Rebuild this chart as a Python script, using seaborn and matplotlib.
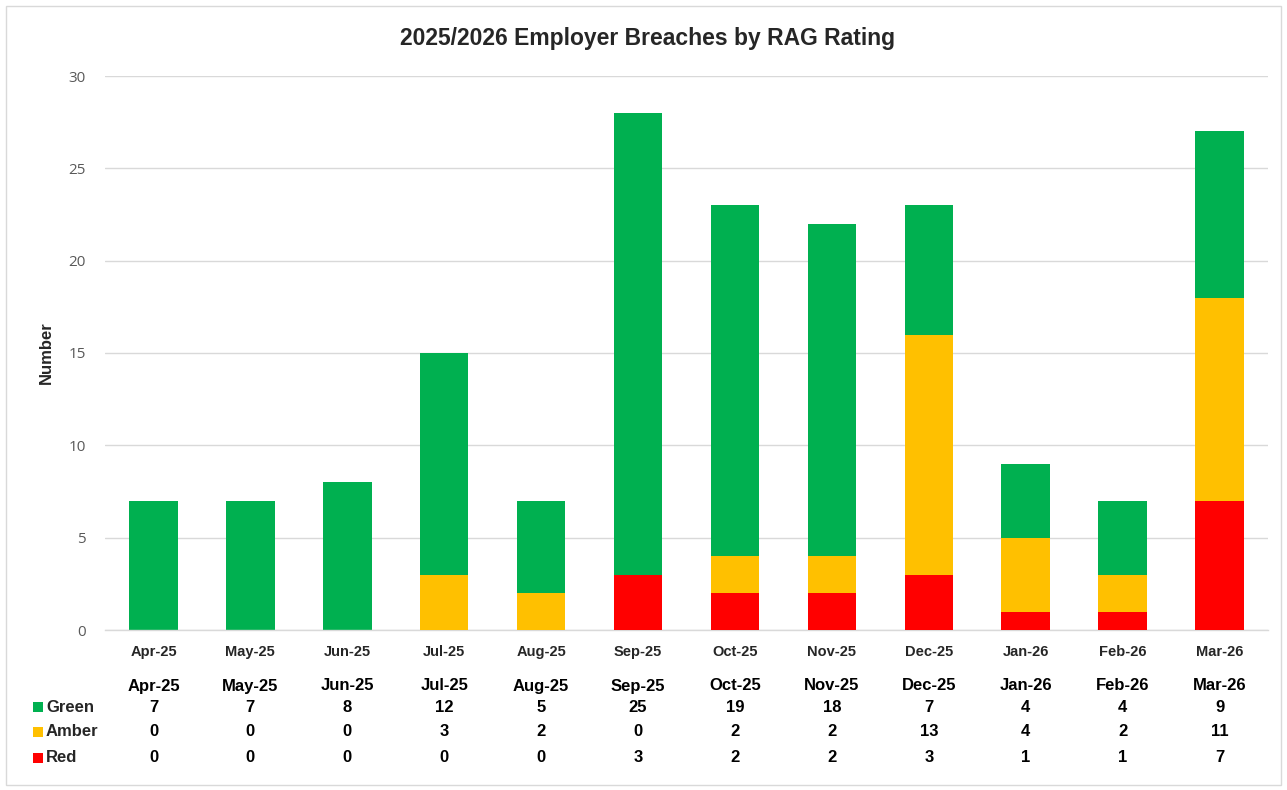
import numpy as np
import pandas as pd
import matplotlib
matplotlib.use("Agg")
import matplotlib.pyplot as plt
import matplotlib.transforms as mtransforms
from matplotlib.patches import Rectangle
import seaborn as sns

months = ['Apr-25', 'May-25', 'Jun-25', 'Jul-25', 'Aug-25', 'Sep-25',
          'Oct-25', 'Nov-25', 'Dec-25', 'Jan-26', 'Feb-26', 'Mar-26']
green = [7, 7, 8, 12, 5, 25, 19, 18, 7, 4, 4, 9]
amber = [0, 0, 0, 3, 2, 0, 2, 2, 13, 4, 2, 11]
red = [0, 0, 0, 0, 0, 3, 2, 2, 3, 1, 1, 7]

colors = {'Green': '#00B050', 'Amber': '#FFC000', 'Red': '#FF0000'}

sns.set_theme(style="white")
plt.rcParams['font.family'] = ['Liberation Sans', 'DejaVu Sans']

df = pd.DataFrame({'Month': months, 'Green': green, 'Amber': amber, 'Red': red})
# cumulative heights for the stacked look
df['top_green'] = df['Red'] + df['Amber'] + df['Green']
df['top_amber'] = df['Red'] + df['Amber']
df['top_red'] = df['Red']

fig = plt.figure(figsize=(12.87, 7.90), dpi=100)
ax = fig.add_axes([105/1287, 1 - 630/790, (1268-105)/1287, (630-76)/790])

for col, name, z in [('top_green', 'Green', 2), ('top_amber', 'Amber', 3), ('top_red', 'Red', 4)]:
    sns.barplot(data=df, x='Month', y=col, color=colors[name], width=0.5,
                saturation=1, ax=ax, zorder=z, linewidth=0, edgecolor='none')

ax.set_ylim(0, 30)
ax.set_xlim(-0.5, 11.5)
ax.set_yticks(range(0, 31, 5))
ax.yaxis.grid(True, color='#D9D9D9', linewidth=1)
ax.set_axisbelow(True)
for s in ['top', 'right', 'left']:
    ax.spines[s].set_visible(False)
ax.spines['bottom'].set_color('#D9D9D9')
ax.spines['bottom'].set_linewidth(1)

ax.tick_params(axis='y', length=0, pad=14, labelcolor='#595959')
for t in ax.get_yticklabels():
    t.set_family(['Open Sans', 'DejaVu Sans'])
    t.set_fontsize(11)
ax.set_xticks(range(len(months)))
ax.set_xticklabels(months, fontweight='bold', fontsize=10.5, color='#262626')
ax.set_xticks(np.arange(-0.5, 12, 1), minor=True)
ax.tick_params(axis='x', which='major', length=0, pad=11)
ax.tick_params(axis='x', which='minor', length=6, color='#D9D9D9', width=1)

ax.set_xlabel('')
ax.set_ylabel('Number', fontsize=12, fontweight='bold', labelpad=10)
fig.text(648/1287, 1 - 38/790, '2025/2026 Employer Breaches by RAG Rating',
         fontsize=16.5, fontweight='bold', ha='center', va='center')

# data table under the chart
trans = mtransforms.blended_transform_factory(ax.transData, fig.transFigure)
tf = dict(fontweight='bold', fontsize=12, ha='center', va='center', color='black')
for i, m in enumerate(months):
    fig.text(i, 1 - 686/790, m, transform=trans, **tf)
rows = [('Green', green, 707), ('Amber', amber, 732), ('Red', red, 758)]
for name, vals, ypix in rows:
    yf = 1 - ypix/790
    for i, v in enumerate(vals):
        fig.text(i, yf, str(v), transform=trans, **tf)
    fig.patches.append(Rectangle((33/1287, yf - 5/790), 10/1287, 10/790,
                                 transform=fig.transFigure, facecolor=colors[name],
                                 edgecolor='none'))
    fig.text(46/1287, yf, name, fontweight='bold', fontsize=12, ha='left', va='center')

fig.patches.append(Rectangle((6/1287, 5/790), 1275/1287, 779/790,
                             transform=fig.transFigure, fill=False,
                             edgecolor='#D9D9D9', linewidth=1))

fig.savefig('out.png', dpi=100, facecolor='white')
